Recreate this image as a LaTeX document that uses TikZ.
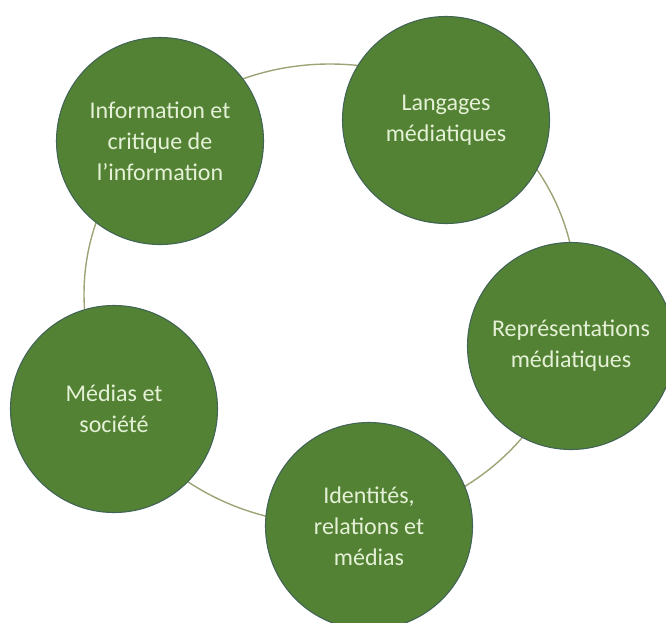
\documentclass[tikz,border=0pt]{standalone}
\usepackage{fontspec}
\newfontfamily\calib{Carlito}
\definecolor{themegreen}{RGB}{84,130,53}
\definecolor{themeedge}{RGB}{66,100,84}
\definecolor{themetext}{RGB}{228,241,214}
\definecolor{ringline}{RGB}{158,163,118}

\tikzset{
  topic/.style={circle, minimum size=207pt, inner sep=0pt, align=center,
    fill=themegreen, draw=themeedge, line width=1.1pt, text=themetext,
    font=\calib\fontsize{24}{31}\selectfont},
  ring/.style={draw=ringline, line width=1.4pt}
}

\begin{document}
\begin{tikzpicture}[x=1pt,y=1pt]
\useasboundingbox (0,0) rectangle (666,-622);
% cycle ring behind the topics
\coordinate (hub) at (330,-294);
\draw[ring] (hub) ellipse[x radius=246, y radius=230];
\node[topic] (info) at (160,-141) {Information et\\critique de\\l’information};
\node[topic] (lang) at (446,-120) {Langages\\médiatiques};
\node[topic] (repr) at (571,-346) {Représentations\\médiatiques};
\node[topic] (ident) at (369,-526) {Identités,\\relations et\\médias};
\node[topic] (soc) at (114,-409) {Médias et\\société};
\end{tikzpicture}
\end{document}
